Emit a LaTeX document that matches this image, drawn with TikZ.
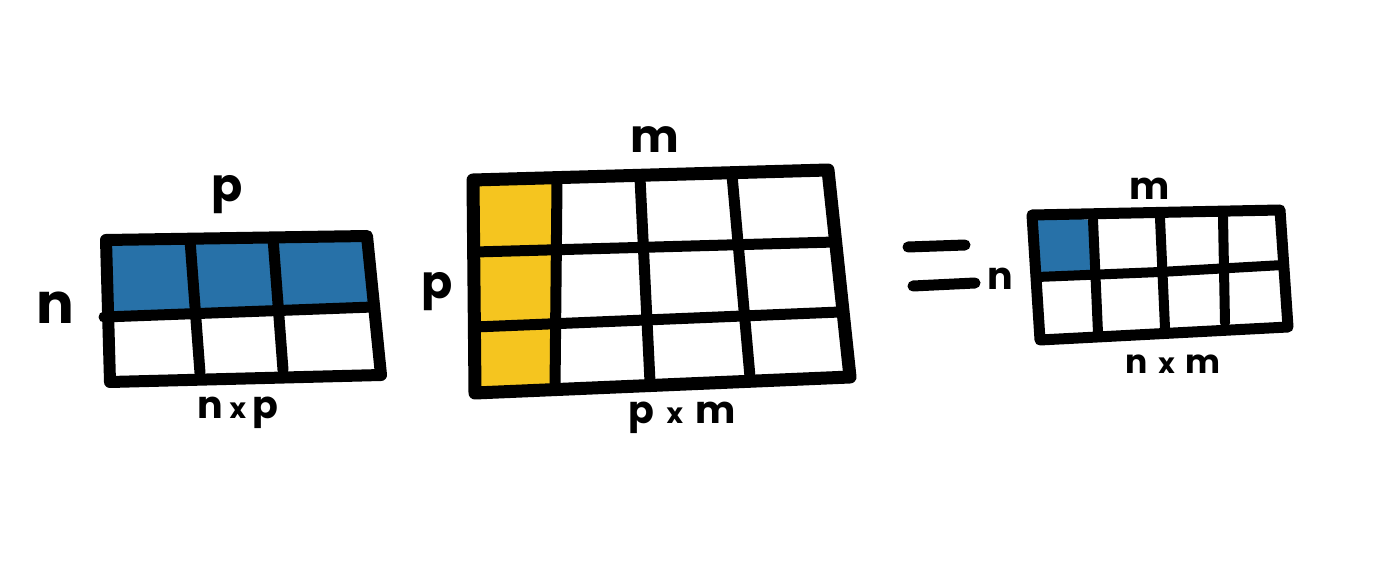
\documentclass[tikz,border=0pt]{standalone}
\usepackage{fontspec}
\setmainfont{Poppins}
\definecolor{mblue}{HTML}{2771A8}
\definecolor{myellow}{HTML}{F5C51F}
\tikzset{
  grid/.style={line width=11pt, line cap=round, line join=round},
  outer/.style={line width=12pt, line cap=round, line join=round},
  lbl/.style={font=\fontsize{46}{46}\selectfont\bfseries, inner sep=0pt},
  dimlbl/.style={font=\fontsize{38}{38}\selectfont\bfseries, inner sep=0pt},
}
\newcommand{\tms}{{\fontsize{28}{28}\selectfont x}}
\begin{document}
\begin{tikzpicture}[x=1pt,y=-1pt]
\useasboundingbox (0,0) rectangle (1400,561);
% ---------- matrix A (n x p)
\coordinate (a1) at (106,240); \coordinate (a2) at (367,236);
\coordinate (a3) at (381,375); \coordinate (a4) at (110,382);
\coordinate (al) at (104,317); \coordinate (ar) at (373,307);
\fill[mblue] (a1) -- (a2) -- (ar) -- (al) -- cycle;
\draw[grid] (al) -- (ar);
\draw[grid] (190,240) -- (200,373);
\draw[grid] (273,238) -- (283,370);
\draw[outer] (a1) -- (a2) -- (a3) -- (a4) -- cycle;
\node[lbl] (pA) at (227,195) {p};
\node[lbl, font=\fontsize{56}{56}\selectfont\bfseries] (nA) at (55,308) {n};
\node[dimlbl] (dA) at (238,413) {n\,\tms\,p};
% ---------- matrix B (p x m)
\coordinate (b1) at (473,180); \coordinate (b2) at (828,170);
\coordinate (b3) at (850,377); \coordinate (b4) at (475,393);
\fill[myellow] (b1) -- (557,182) -- (555,390) -- (b4) -- cycle;
\draw[grid] (475,252) -- (835,242);
\draw[grid] (475,327) -- (840,312);
\draw[grid] (557,182) -- (555,390);
\draw[grid] (640,178) -- (650,382);
\draw[grid] (732,175) -- (750,377);
\draw[outer, line width=13pt] (b1) -- (b2) -- (b3) -- (b4) -- cycle;
\node[lbl] (mB) at (655,140) {m};
\node[lbl] (pB) at (437,292) {p};
\node[dimlbl] (dB) at (682,418) {p\,\,\tms\,\,m};
% ---------- equals sign
\draw[grid] (908,247) -- (965,245);
\draw[grid] (913,286) -- (975,283);
% ---------- matrix C (n x m)
\coordinate (c1) at (1032,215); \coordinate (c2) at (1280,210);
\coordinate (c3) at (1288,327); \coordinate (c4) at (1040,340);
\fill[mblue] (c1) -- (1093,220) -- (1095,276) -- (1037,277) -- cycle;
\draw[grid, line width=10pt] (1037,277) -- (1160,272) -- (1283,265);
\draw[grid, line width=10pt] (1093,220) -- (1098,333);
\draw[grid, line width=10pt] (1160,218) -- (1165,328);
\draw[grid, line width=10pt] (1223,217) -- (1225,323);
\draw[outer, line width=11pt] (c1) -- (c2) -- (c3) -- (c4) -- cycle;
\node[dimlbl] (mC) at (1150,189) {m};
\node[dimlbl] (nC) at (1000,279) {n};
\node[dimlbl, font=\fontsize{33}{33}\selectfont\bfseries] (dC) at (1173,364) {n\,\,\tms\,\,m};
\end{tikzpicture}
\end{document}
